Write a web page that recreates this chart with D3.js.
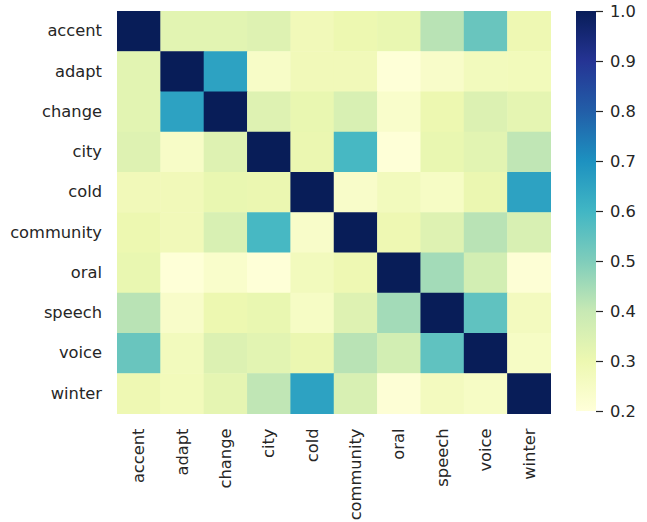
<!DOCTYPE html>
<html>
<head>
<meta charset="utf-8">
<script src="https://cdn.jsdelivr.net/npm/d3@7"></script>
<style>
  body { margin: 0; background: #fff; }
  text { font-family: "DejaVu Sans", sans-serif; fill: #262626; }
</style>
</head>
<body>
<div id="chart"></div>
<script>
// words on both axes
var words = ['accent', 'adapt', 'change', 'city', 'cold', 'community', 'oral', 'speech', 'voice', 'winter']

// similarity matrix, one row per word
var row_accent    = [1.00, 0.33, 0.33, 0.34, 0.28, 0.30, 0.31, 0.42, 0.535, 0.295]
var row_adapt     = [0.33, 1.00, 0.655, 0.245, 0.28, 0.28, 0.205, 0.24, 0.27, 0.275]
var row_change    = [0.33, 0.655, 1.00, 0.34, 0.31, 0.355, 0.235, 0.30, 0.345, 0.32]
var row_city      = [0.34, 0.245, 0.34, 1.00, 0.305, 0.59, 0.205, 0.31, 0.33, 0.41]
var row_cold      = [0.28, 0.28, 0.31, 0.305, 1.00, 0.24, 0.27, 0.25, 0.305, 0.655]
var row_community = [0.30, 0.28, 0.355, 0.59, 0.24, 1.00, 0.295, 0.34, 0.42, 0.355]
var row_oral      = [0.31, 0.205, 0.235, 0.205, 0.27, 0.295, 1.00, 0.45, 0.37, 0.21]
var row_speech    = [0.42, 0.24, 0.30, 0.31, 0.25, 0.34, 0.45, 1.00, 0.55, 0.265]
var row_voice     = [0.535, 0.27, 0.345, 0.33, 0.305, 0.42, 0.37, 0.55, 1.00, 0.25]
var row_winter    = [0.295, 0.275, 0.32, 0.41, 0.655, 0.355, 0.21, 0.265, 0.25, 1.00]

var matrix = [row_accent, row_adapt, row_change, row_city, row_cold,
              row_community, row_oral, row_speech, row_voice, row_winter]

// colorbar ticks
var cbar_ticks = [0.2, 0.3, 0.4, 0.5, 0.6, 0.7, 0.8, 0.9, 1.0]

// YlGnBu (colorbrewer 9 class, as matplotlib uses it)
var ylgnbu = ['#ffffd9', '#edf8b1', '#c7e9b4', '#7fcdbb', '#41b6c4', '#1d91c0', '#225ea8', '#253494', '#081d58']

var config = {
    'width': 647,
    'height': 522,
    'left': 117,
    'right': 550.5,
    'top': 11,
    'bottom': 413.5,
    'cbar_x': 576,
    'cbar_w': 20,
    'font_size': '16.3px'
}

var svg = d3.select('#chart').append('svg')
    .attr('width', config.width)
    .attr('height', config.height)

var xScale = d3.scaleBand()
    .domain(words)
    .range([config.left, config.right])

var yScale = d3.scaleBand()
    .domain(words)
    .range([config.top, config.bottom])

var vmin = 0.2, vmax = 1.0
var colour = d3.scaleLinear()
    .domain(d3.range(ylgnbu.length).map(i => vmin + i * (vmax - vmin) / (ylgnbu.length - 1)))
    .range(ylgnbu)
    .interpolate(d3.interpolateRgb)
    .clamp(true)

// flatten the matrix into cells
var cells = []
matrix.forEach(function(row, i) {
    row.forEach(function(v, j) {
        cells.push({ 'row': words[i], 'col': words[j], 'value': v })
    })
})

svg.append('g')
    .classed('cells', true)
    .selectAll('rect')
    .data(cells)
    .enter()
    .append('rect')
    .attr('x', d => xScale(d.col))
    .attr('y', d => yScale(d.row))
    .attr('width', xScale.bandwidth() + 0.5)
    .attr('height', yScale.bandwidth() + 0.5)
    .style('fill', d => colour(d.value))

// y axis labels
var yAxis = svg.append('g')
    .attr('transform', 'translate(' + config.left + ',0)')
    .call(d3.axisLeft(yScale).tickSize(0).tickPadding(15))
yAxis.select('.domain').remove()
yAxis.selectAll('.tick text')
    .style('font-size', config.font_size)
    .style('font-family', '"DejaVu Sans", sans-serif')
    .attr('fill', '#262626')

// x axis labels, rotated
var xAxis = svg.append('g')
    .attr('transform', 'translate(0,' + config.bottom + ')')
    .call(d3.axisBottom(xScale).tickSize(0).tickPadding(0))
xAxis.select('.domain').remove()
xAxis.selectAll('.tick text')
    .style('font-size', config.font_size)
    .style('font-family', '"DejaVu Sans", sans-serif')
    .attr('fill', '#262626')
    .attr('text-anchor', 'end')
    .attr('dy', '0.35em')
    .attr('y', 0)
    .attr('transform', 'translate(0,15) rotate(-90)')

// colorbar
var cbarScale = d3.scaleLinear()
    .domain([vmin, vmax])
    .range([config.bottom - 2.5, config.top])

var defs = svg.append('defs')
var gradient = defs.append('linearGradient')
    .attr('id', 'cbar_gradient')
    .attr('x1', '0%').attr('y1', '100%')
    .attr('x2', '0%').attr('y2', '0%')

ylgnbu.forEach(function(c, i) {
    gradient.append('stop')
        .attr('offset', (i / (ylgnbu.length - 1) * 100) + '%')
        .style('stop-color', c)
})

svg.append('rect')
    .attr('x', config.cbar_x)
    .attr('y', cbarScale(vmax))
    .attr('width', config.cbar_w)
    .attr('height', cbarScale(vmin) - cbarScale(vmax))
    .style('fill', 'url(#cbar_gradient)')

var cAxis = svg.append('g')
    .attr('transform', 'translate(' + (config.cbar_x + config.cbar_w) + ',0)')
    .call(d3.axisRight(cbarScale).tickValues(cbar_ticks).tickFormat(d3.format('.1f')).tickSize(7).tickPadding(7))
cAxis.select('.domain').remove()
cAxis.selectAll('.tick line').attr('stroke', '#262626').attr('stroke-width', 1.2)
cAxis.selectAll('.tick text')
    .style('font-size', config.font_size)
    .style('font-family', '"DejaVu Sans", sans-serif')
    .attr('fill', '#262626')
</script>
</body>
</html>
